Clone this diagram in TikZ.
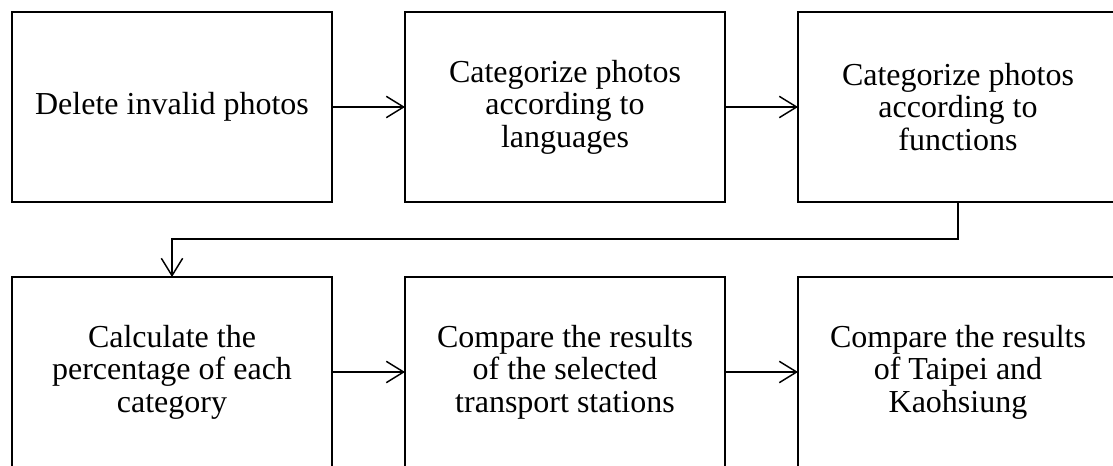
\documentclass[tikz,border=0pt]{standalone}
\usepackage{fontspec}
\setmainfont{Liberation Serif}
\usetikzlibrary{arrows.meta,positioning}

\begin{document}
\begin{tikzpicture}[x=0.75pt, y=-0.75pt,
    stepbox/.style={draw, line width=1.1pt, outer sep=0pt, minimum width=240pt, minimum height=142.5pt,
        align=center, font=\fontsize{24}{24.4}\selectfont},
    flow/.style={line width=1.1pt, -{Straight Barb[length=13pt, width=16pt, line width=1.1pt]}},
    node distance=54.75pt and 54.75pt]
    \useasboundingbox (0,0) rectangle (1113,466);

    % first row
    \node[stepbox] (delete) at (172,107) {Delete invalid photos};
    \node[stepbox, right=of delete] (lang) {Categorize photos\\according to\\languages};
    \node[stepbox, right=of lang] (func) {Categorize photos\\according to\\functions};

    % second row
    \node[stepbox, below=56.25pt of delete] (calc) {Calculate the\\percentage of each\\category};
    \node[stepbox, right=of calc] (stations) {Compare the results\\of the selected\\transport stations};
    \node[stepbox, right=of stations] (cities) {Compare the results\\of Taipei and\\Kaohsiung};

    \draw[flow] (delete) -- (lang);
    \draw[flow] (lang) -- (func);
    \draw[flow] (func.south) -- ++(0,37) -| (calc.north);
    \draw[flow] (calc) -- (stations);
    \draw[flow] (stations) -- (cities);
\end{tikzpicture}
\end{document}
